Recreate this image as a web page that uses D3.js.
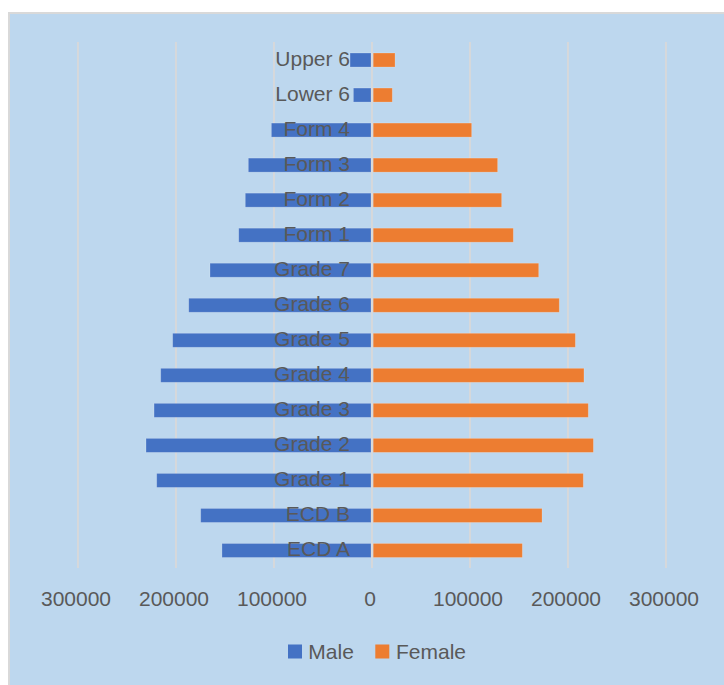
<!DOCTYPE html>
<html>
<head>
<meta charset="utf-8">
<script src="https://cdn.jsdelivr.net/npm/d3@7"></script>
<style>
  html, body { margin: 0; padding: 0; background: #ffffff; }
  svg { display: block; font-family: "Liberation Sans", Arial, sans-serif; }
</style>
</head>
<body>
<div id="chart"></div>
<script>
// Enrolment by level, listed from the lowest level upward
const levels = ["ECD A", "ECD B", "Grade 1", "Grade 2", "Grade 3", "Grade 4", "Grade 5",
                "Grade 6", "Grade 7", "Form 1", "Form 2", "Form 3", "Form 4", "Lower 6", "Upper 6"];
const male   = [153100, 174800, 219700, 230600, 222400, 215600, 203400,
                187000, 165300, 136000, 129300, 126200, 102700, 19000, 22400];
const female = [153400, 173500, 215600, 225900, 220700, 216300, 207500,
                191100, 170100, 144200, 132300, 128200, 101700, 20700, 23500];
const tickValues = [-300000, -200000, -100000, 0, 100000, 200000, 300000];
const seriesNames = ["Male", "Female"];
const seriesColors = ["#4472C4", "#ED7D31"];

const W = 724, H = 685;
const textColor = "#595959";
const gridColor = "#D9D9D9";

const svg = d3.select("#chart").append("svg")
  .attr("width", W).attr("height", H);

// chart panel
svg.append("rect")
  .attr("x", 9).attr("y", 13)
  .attr("width", W).attr("height", H)
  .attr("fill", "#BDD7EE")
  .attr("stroke", gridColor).attr("stroke-width", 2);

const x = d3.scaleLinear().domain([-300000, 300000]).range([78, 666]);
const y = d3.scaleBand()
  .domain(levels.slice().reverse())
  .range([42.5, 568])
  .paddingInner(0.6)
  .paddingOuter(0.3);

const plotTop = 42, plotBottom = 568;

// vertical gridlines
svg.append("g").selectAll("line")
  .data(tickValues)
  .join("line")
  .attr("x1", d => x(d)).attr("x2", d => x(d))
  .attr("y1", plotTop).attr("y2", plotBottom)
  .attr("stroke", gridColor).attr("stroke-width", 1.8);

const rows = levels.map((lv, i) => ({ level: lv, m: male[i], f: female[i] }));

// male bars extend to the left of zero
svg.append("g").selectAll("rect")
  .data(rows)
  .join("rect")
  .attr("x", d => x(-d.m))
  .attr("y", d => y(d.level))
  .attr("width", d => x(0) - x(-d.m) - 1)
  .attr("height", y.bandwidth())
  .attr("fill", seriesColors[0])
  .attr("stroke", "rgba(255,255,255,0.25)").attr("stroke-width", 0.8);

// female bars extend to the right of zero
svg.append("g").selectAll("rect")
  .data(rows)
  .join("rect")
  .attr("x", x(0) + 1.2)
  .attr("y", d => y(d.level))
  .attr("width", d => x(d.f) - x(0) - 1.2)
  .attr("height", y.bandwidth())
  .attr("fill", seriesColors[1])
  .attr("stroke", "rgba(255,255,255,0.25)").attr("stroke-width", 0.8);

// category labels sit at the centre axis, over the male bars
svg.append("g").selectAll("text")
  .data(rows)
  .join("text")
  .attr("x", x(0) - 22)
  .attr("y", d => y(d.level) + y.bandwidth() / 2 + 5.8)
  .attr("text-anchor", "end")
  .attr("font-size", 21)
  .attr("fill", textColor)
  .text(d => d.level);

// value axis, shown as absolute counts on both sides
const xAxis = d3.axisBottom(x)
  .tickValues(tickValues)
  .tickFormat(d => String(Math.abs(d)))
  .tickSize(0)
  .tickPadding(0);

const axisG = svg.append("g")
  .attr("transform", "translate(-2.5,0)")
  .call(xAxis);
axisG.select(".domain").remove();
axisG.selectAll("text")
  .attr("y", 605.7)
  .attr("dy", null)
  .attr("font-size", 21)
  .attr("font-family", "Liberation Sans, Arial, sans-serif")
  .attr("fill", textColor);

// legend
const legendItems = [
  { name: seriesNames[0], color: seriesColors[0], sx: 288, tx: 308.3 },
  { name: seriesNames[1], color: seriesColors[1], sx: 375.3, tx: 396 }
];
const lg = svg.append("g");
lg.selectAll("rect")
  .data(legendItems)
  .join("rect")
  .attr("x", d => d.sx).attr("y", 644.5)
  .attr("width", 14).attr("height", 14)
  .attr("fill", d => d.color);
lg.selectAll("text")
  .data(legendItems)
  .join("text")
  .attr("x", d => d.tx).attr("y", 658.7)
  .attr("font-size", 21)
  .attr("fill", textColor)
  .text(d => d.name);
</script>
</body>
</html>
